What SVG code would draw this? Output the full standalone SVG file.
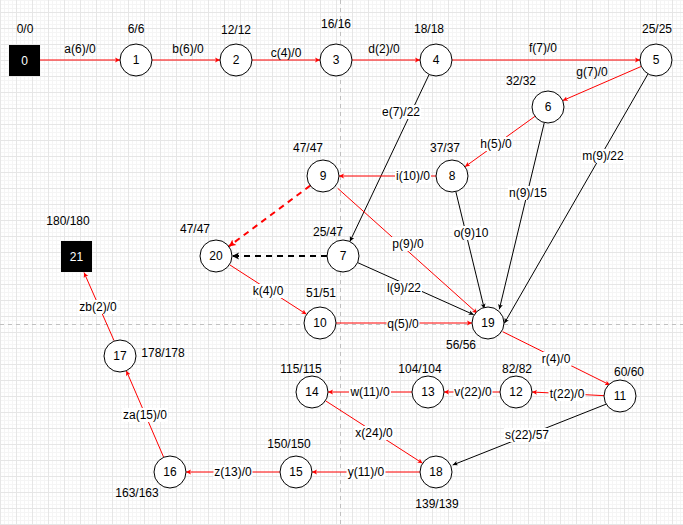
<svg xmlns="http://www.w3.org/2000/svg" width="683" height="525" viewBox="0 0 683 525">
<defs>
<pattern id="grid" patternUnits="userSpaceOnUse" x="0" y="12" width="16" height="16">
<rect width="16" height="16" fill="#ffffff"/>
<path d="M4.5,0V16M8.5,0V16M12.5,0V16M0,4.5H16M0,8.5H16M0,12.5H16" stroke="#f5f5f5" stroke-width="1" fill="none"/>
<path d="M0.5,0V16M0,0.5H16" stroke="#e6e6e6" stroke-width="1" fill="none"/>
</pattern>
<marker id="ar" markerUnits="userSpaceOnUse" viewBox="0 0 6 6" markerWidth="6" markerHeight="6" refX="5" refY="3" orient="auto"><path d="M0,0.6 L5,3 L0,5.4 L1.2,3 Z" fill="#ff0000"/></marker>
<marker id="ak" markerUnits="userSpaceOnUse" viewBox="0 0 6 6" markerWidth="6" markerHeight="6" refX="5" refY="3" orient="auto"><path d="M0,0.6 L5,3 L0,5.4 L1.2,3 Z" fill="#000000"/></marker>
<marker id="ard" markerUnits="userSpaceOnUse" viewBox="0 0 8 8" markerWidth="8" markerHeight="8" refX="7" refY="4" orient="auto"><path d="M0,0.5 L7,4 L0,7.5 L1.6,4 Z" fill="#ff0000"/></marker>
<marker id="akd" markerUnits="userSpaceOnUse" viewBox="0 0 8 8" markerWidth="8" markerHeight="8" refX="7" refY="4" orient="auto"><path d="M0,0.5 L7,4 L0,7.5 L1.6,4 Z" fill="#000000"/></marker>
</defs>
<style>
.t{font-family:"Liberation Sans",Arial,sans-serif;font-size:12px;text-anchor:middle;fill:#000}
.w{fill:#ffffff}
.r{stroke:#ff0000;stroke-width:1;fill:none;marker-end:url(#ar)}
.k{stroke:#000000;stroke-width:1;fill:none;marker-end:url(#ak)}
.rd{stroke:#ff0000;stroke-width:2;fill:none;stroke-dasharray:6 5;marker-end:url(#ard)}
.kd{stroke:#000000;stroke-width:2;fill:none;stroke-dasharray:6 5;marker-end:url(#akd)}
.bg{fill:#ffffff}
.c{fill:#ffffff;stroke:#000000;stroke-width:1}
.s{fill:#000000}
.wt{font-family:"Liberation Sans",Arial,sans-serif;font-size:12px;text-anchor:middle;fill:#ffffff}
.pg{stroke:#c0c0c0;stroke-width:1;stroke-dasharray:4 4;fill:none}
</style>
<rect x="0" y="0" width="683" height="525" fill="url(#grid)"/>
<path class="pg" d="M340.5,0V525M0,324.5H683"/>

<g id="connectors">
<line class="r" x1="40" y1="60" x2="120" y2="60"/>
<line class="r" x1="152" y1="60" x2="220" y2="60"/>
<line class="r" x1="252" y1="60" x2="320" y2="60"/>
<line class="r" x1="352" y1="60" x2="420" y2="60"/>
<line class="r" x1="452" y1="60" x2="640" y2="60"/>
<line class="r" x1="641.3" y1="66.4" x2="562.7" y2="100.6"/>
<line class="k" x1="429.1" y1="74.5" x2="349.9" y2="241.5"/>
<line class="r" x1="535" y1="116.3" x2="465" y2="166.7"/>
<line class="r" x1="436" y1="176" x2="339" y2="176"/>
<line class="k" x1="544.3" y1="122.6" x2="499.3" y2="309.3"/>
<line class="k" x1="648" y1="73.9" x2="504.3" y2="323.3"/>
<line class="k" x1="455.8" y1="191.5" x2="484.3" y2="308.7"/>
<line class="r" x1="337.7" y1="188.3" x2="477.3" y2="313.3"/>
<line class="rd" x1="310.2" y1="185.6" x2="228.8" y2="246.4"/>
<line class="kd" x1="327" y1="256" x2="232" y2="256"/>
<line class="k" x1="357.6" y1="262.6" x2="473.7" y2="314.7"/>
<line class="r" x1="229.5" y1="264.7" x2="306.5" y2="314.3"/>
<line class="r" x1="336" y1="323" x2="472" y2="323"/>
<line class="r" x1="502.7" y1="331.7" x2="610" y2="385"/>
<line class="r" x1="604.7" y1="395.7" x2="532" y2="392"/>
<line class="r" x1="500" y1="392" x2="444" y2="392"/>
<line class="r" x1="412" y1="392" x2="328" y2="392"/>
<line class="r" x1="325.4" y1="400.7" x2="422.6" y2="463.3"/>
<line class="k" x1="608.3" y1="403.3" x2="452.7" y2="465"/>
<line class="r" x1="420" y1="472" x2="312" y2="472"/>
<line class="r" x1="280" y1="472" x2="186" y2="472"/>
<line class="r" x1="163.7" y1="457.3" x2="126.3" y2="370.7"/>
<line class="r" x1="114" y1="340.5" x2="84" y2="272.5"/>

<text class="t" x="80" y="53">a(6)/0</text>
<text class="t" x="188" y="53">b(6)/0</text>
<text class="t" x="286" y="57">c(4)/0</text>
<text class="t" x="384" y="53">d(2)/0</text>
<text class="t" x="543" y="52">f(7)/0</text>
<text class="t" x="592" y="76">g(7)/0</text>
<rect class="bg" x="381" y="105" width="40" height="14"/><text class="t" x="401" y="116">e(7)/22</text>
<rect class="bg" x="479.5" y="137" width="33" height="14"/><text class="t" x="496" y="148">h(5)/0</text>
<rect class="bg" x="395" y="169" width="36" height="14"/><text class="t" x="413" y="180">i(10)/0</text>
<rect class="bg" x="508" y="186" width="40" height="14"/><text class="t" x="528" y="197">n(9)/15</text>
<rect class="bg" x="581.5" y="149" width="43" height="14"/><text class="t" x="603" y="160">m(9)/22</text>
<rect class="bg" x="452.5" y="226" width="37" height="14"/><text class="t" x="471" y="237">o(9)10</text>
<rect class="bg" x="391.5" y="237" width="33" height="14"/><text class="t" x="408" y="248">p(9)/0</text>
<rect class="bg" x="386" y="281" width="36" height="14"/><text class="t" x="404" y="292">l(9)/22</text>
<rect class="bg" x="251.5" y="284" width="33" height="14"/><text class="t" x="268" y="295">k(4)/0</text>
<rect class="bg" x="386.5" y="317" width="33" height="14"/><text class="t" x="403" y="328">q(5)/0</text>
<rect class="bg" x="540.5" y="352" width="31" height="14"/><text class="t" x="556" y="363">r(4)/0</text>
<rect class="bg" x="548.5" y="387" width="37" height="14"/><text class="t" x="567" y="398">t(22)/0</text>
<rect class="bg" x="453.5" y="385" width="39" height="14"/><text class="t" x="473" y="396">v(22)/0</text>
<rect class="bg" x="349" y="385" width="42" height="14"/><text class="t" x="370" y="396">w(11)/0</text>
<rect class="bg" x="354.5" y="426" width="39" height="14"/><text class="t" x="374" y="437">x(24)/0</text>
<rect class="bg" x="504" y="428" width="46" height="14"/><text class="t" x="527" y="439">s(22)/57</text>
<rect class="bg" x="346.5" y="465" width="39" height="14"/><text class="t" x="366" y="476">y(11)/0</text>
<rect class="bg" x="213.5" y="465" width="39" height="14"/><text class="t" x="233" y="476">z(13)/0</text>
<rect class="bg" x="122" y="408" width="46" height="14"/><text class="t" x="145" y="419">za(15)/0</text>
<rect class="bg" x="78.5" y="300" width="39" height="14"/><text class="t" x="98" y="311">zb(2)/0</text>
</g>

<g id="n0"><rect class="s" x="9" y="45" width="31" height="31"/><text class="wt" x="24.5" y="64.5">0</text><text class="t" x="25" y="33">0/0</text></g>
<g id="n1"><circle class="c" cx="136" cy="60" r="16"/><text class="t" x="136" y="64">1</text><text class="t" x="136" y="33">6/6</text></g>
<g id="n2"><circle class="c" cx="236" cy="60" r="16"/><text class="t" x="236" y="64">2</text><text class="t" x="236" y="34">12/12</text></g>
<g id="n3"><circle class="c" cx="336" cy="60" r="16"/><text class="t" x="336" y="64">3</text><text class="t" x="336" y="28">16/16</text></g>
<g id="n4"><circle class="c" cx="436" cy="60" r="16"/><text class="t" x="436" y="64">4</text><text class="t" x="429" y="33">18/18</text></g>
<g id="n5"><circle class="c" cx="656" cy="60" r="16"/><text class="t" x="656" y="64">5</text><text class="t" x="657" y="33">25/25</text></g>
<g id="n6"><circle class="c" cx="548" cy="107" r="16"/><text class="t" x="548" y="111">6</text><text class="t" x="521" y="85">32/32</text></g>
<g id="n7"><circle class="c" cx="343" cy="256" r="16"/><text class="t" x="343" y="260">7</text><text class="t" x="328" y="236">25/47</text></g>
<g id="n8"><circle class="c" cx="452" cy="176" r="16"/><text class="t" x="452" y="180">8</text><text class="t" x="445" y="152">37/37</text></g>
<g id="n9"><circle class="c" cx="323" cy="176" r="16"/><text class="t" x="323" y="180">9</text><text class="t" x="308" y="152">47/47</text></g>
<g id="n10"><circle class="c" cx="320" cy="323" r="16"/><text class="t" x="320" y="327">10</text><text class="t" x="321" y="297">51/51</text></g>
<g id="n11"><circle class="c" cx="620" cy="396" r="16"/><text class="t" x="620" y="400">11</text><text class="t" x="629" y="376">60/60</text></g>
<g id="n12"><circle class="c" cx="516" cy="392" r="16"/><text class="t" x="516" y="396">12</text><text class="t" x="517" y="373">82/82</text></g>
<g id="n13"><circle class="c" cx="428" cy="392" r="16"/><text class="t" x="428" y="396">13</text><text class="t" x="420" y="373">104/104</text></g>
<g id="n14"><circle class="c" cx="312" cy="392" r="16"/><text class="t" x="312" y="396">14</text><text class="t" x="301" y="373">115/115</text></g>
<g id="n15"><circle class="c" cx="296" cy="472" r="16"/><text class="t" x="296" y="476">15</text><text class="t" x="289" y="448">150/150</text></g>
<g id="n16"><circle class="c" cx="170" cy="472" r="16"/><text class="t" x="170" y="476">16</text><text class="t" x="137" y="497">163/163</text></g>
<g id="n17"><circle class="c" cx="120" cy="356" r="16"/><text class="t" x="120" y="360">17</text><text class="t" x="163" y="357">178/178</text></g>
<g id="n18"><circle class="c" cx="436" cy="472" r="16"/><text class="t" x="436" y="476">18</text><text class="t" x="437" y="508">139/139</text></g>
<g id="n19"><circle class="c" cx="488" cy="323" r="16"/><text class="t" x="488" y="327">19</text><text class="t" x="461" y="349">56/56</text></g>
<g id="n20"><circle class="c" cx="216" cy="256" r="16"/><text class="t" x="216" y="260">20</text><text class="t" x="195" y="233">47/47</text></g>
<g id="n21"><rect class="s" x="61" y="241" width="31" height="31"/><text class="wt" x="76.5" y="261">21</text><text class="t" x="68" y="225">180/180</text></g>
</svg>
